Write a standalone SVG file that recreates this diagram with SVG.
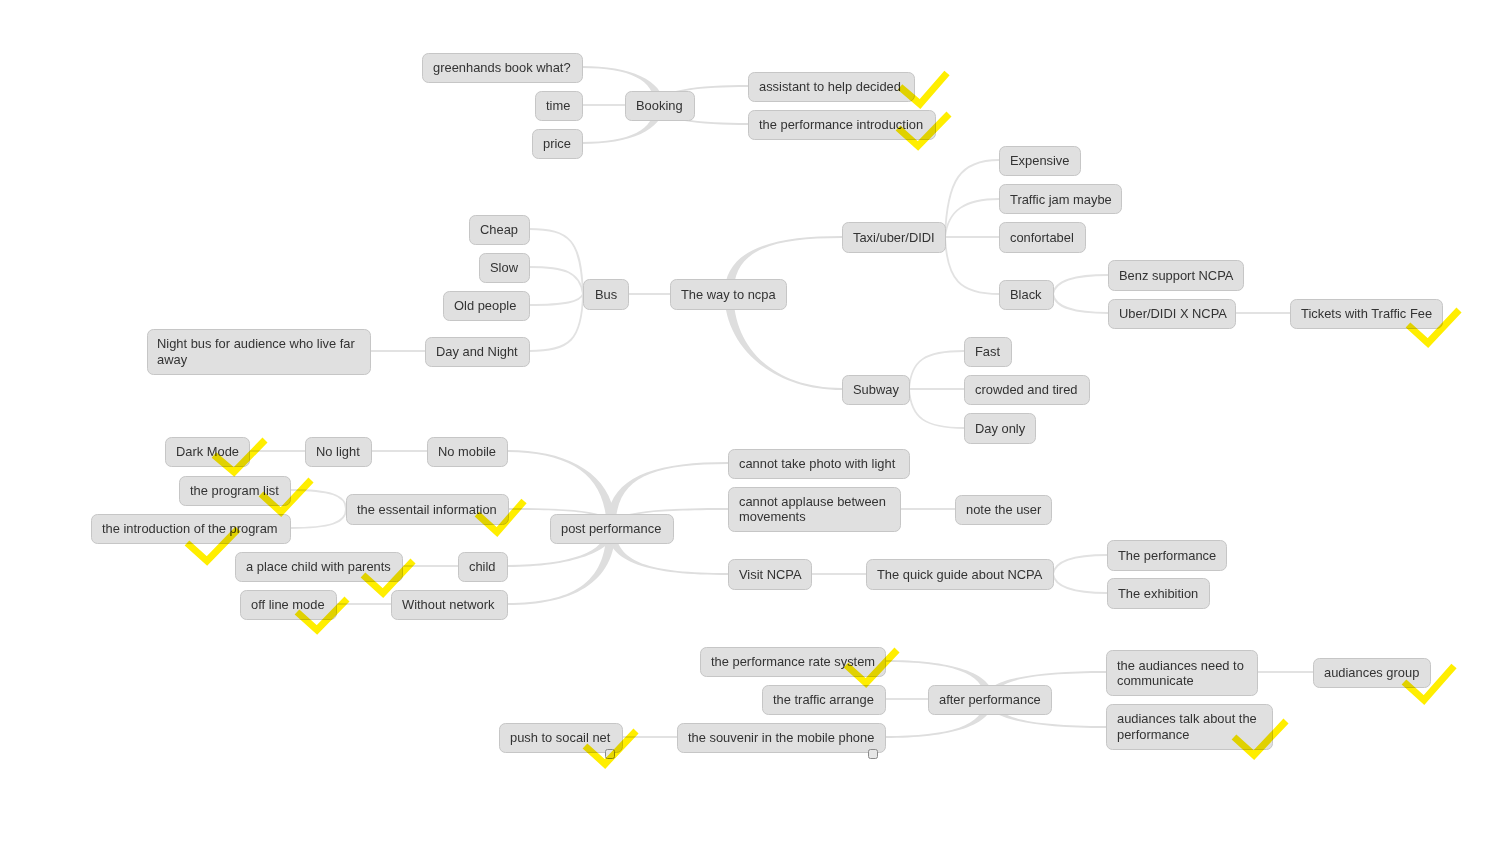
<svg xmlns="http://www.w3.org/2000/svg" width="1500" height="844" viewBox="0 0 1500 844">
<style>
.n rect.b{fill:#e0e0e0;stroke:#c6c6c6;stroke-width:1}
.n text{font-family:"Liberation Sans",Arial,sans-serif;font-size:12.9px;fill:#333}
.c path.l{fill:none;stroke:#e2e2e2;stroke-width:1.8}
.c path.t{fill:#dedede;stroke:none}
.chk{fill:none;stroke:#ffee00;stroke-width:7;mix-blend-mode:multiply}
.sq{fill:#e6e6e6;stroke:#8a8a8a;stroke-width:1}
</style>
<rect width="1500" height="844" fill="#ffffff"/>
<g id="connectors" class="c">
<path class="t" d="M 654.5 105 C 654.5 80 630 68 582 68 L 582 66 C 630 66 663.5 80 663.5 105 Z"/>
<path class="t" d="M 654.5 105 C 654.5 130 630 142 582 142 L 582 144 C 630 144 663.5 130 663.5 105 Z"/>
<path class="t" d="M 654.5 105 C 654.5 90 700 85 748 85 L 748 87 C 700 87 663.5 90 663.5 105 Z"/>
<path class="t" d="M 654.5 105 C 654.5 120 700 125 748 125 L 748 123 C 700 123 663.5 120 663.5 105 Z"/>
<path class="l" d="M 582 105 L 625 105"/>
<path class="t" d="M 724.5 294 C 724.5 250 770 236 842 236 L 842 238 C 770 238 733.5 250 733.5 294 Z"/>
<path class="t" d="M 724.5 294 C 724.5 345 770 390 842 390 L 842 388 C 770 388 733.5 345 733.5 294 Z"/>
<path class="l" d="M 628 294 L 670 294"/>
<path class="l" d="M 583 294 C 581 240 570 229 529 229"/>
<path class="l" d="M 583 294 C 580 272 565 267 529 267"/>
<path class="l" d="M 583 294 C 580 302 565 305 529 305"/>
<path class="l" d="M 583 294 C 582 340 570 351 529 351"/>
<path class="l" d="M 425 351 L 370 351"/>
<path class="l" d="M 945 237 C 947 180 960 160 999 160"/>
<path class="l" d="M 945 237 C 948 210 965 199 999 199"/>
<path class="l" d="M 945 237 L 999 237"/>
<path class="l" d="M 945 237 C 947 280 960 294 999 294"/>
<path class="l" d="M 1053 294 C 1055 280 1075 275 1108 275"/>
<path class="l" d="M 1053 294 C 1055 308 1075 313 1108 313"/>
<path class="l" d="M 1235 313 L 1290 313"/>
<path class="l" d="M 909 389 C 911 360 925 351 964 351"/>
<path class="l" d="M 909 389 L 964 389"/>
<path class="l" d="M 909 389 C 911 418 925 428 964 428"/>
<path class="t" d="M 606.5 528 C 606.5 475 570 452 507 452 L 507 450 C 570 450 615.5 475 615.5 528 Z"/>
<path class="t" d="M 606.5 528 C 606.5 512 580 510 508 510 L 508 508 C 580 508 615.5 512 615.5 528 Z"/>
<path class="t" d="M 606.5 528 C 606.5 552 570 565 507 565 L 507 567 C 570 567 615.5 552 615.5 528 Z"/>
<path class="t" d="M 606.5 528 C 606.5 585 570 603 507 603 L 507 605 C 570 605 615.5 585 615.5 528 Z"/>
<path class="t" d="M 606.5 528 C 606.5 478 650 462 728 462 L 728 464 C 650 464 615.5 478 615.5 528 Z"/>
<path class="t" d="M 606.5 528 C 606.5 513 650 508 728 508 L 728 510 C 650 510 615.5 513 615.5 528 Z"/>
<path class="t" d="M 606.5 528 C 606.5 563 650 575 728 575 L 728 573 C 650 573 615.5 563 615.5 528 Z"/>
<path class="l" d="M 427 451 L 371 451"/>
<path class="l" d="M 305 451 L 249 451"/>
<path class="l" d="M 346 509 C 346 495 330 490 290 490"/>
<path class="l" d="M 346 509 C 346 523 330 528 290 528"/>
<path class="l" d="M 458 566 L 402 566"/>
<path class="l" d="M 391 604 L 336 604"/>
<path class="l" d="M 900 509 L 955 509"/>
<path class="l" d="M 811 574 L 866 574"/>
<path class="l" d="M 1053 574 C 1055 560 1075 555 1107 555"/>
<path class="l" d="M 1053 574 C 1055 588 1075 593 1107 593"/>
<path class="t" d="M 984.5 699 C 984.5 672 950 662 885 662 L 885 660 C 950 660 993.5 672 993.5 699 Z"/>
<path class="t" d="M 984.5 699 C 984.5 726 950 736 885 736 L 885 738 C 950 738 993.5 726 993.5 699 Z"/>
<path class="t" d="M 984.5 699 C 984.5 680 1030 671 1106 671 L 1106 673 C 1030 673 993.5 680 993.5 699 Z"/>
<path class="t" d="M 984.5 699 C 984.5 718 1030 728 1106 728 L 1106 726 C 1030 726 993.5 718 993.5 699 Z"/>
<path class="l" d="M 885 699 L 928 699"/>
<path class="l" d="M 677 737 L 622 737"/>
<path class="l" d="M 1257 672 L 1313 672"/>
</g>

<g id="n-greenhands" class="n"><rect class="b" x="422.5" y="53.5" width="160" height="29" rx="6"/><text x="433" y="72">greenhands book what?</text></g>
<g id="n-time" class="n"><rect class="b" x="535.5" y="91.5" width="47" height="29" rx="6"/><text x="546" y="110">time</text></g>
<g id="n-price" class="n"><rect class="b" x="532.5" y="129.5" width="50" height="29" rx="6"/><text x="543" y="148">price</text></g>
<g id="n-booking" class="n"><rect class="b" x="625.5" y="91.5" width="69" height="29" rx="6"/><text x="636" y="110">Booking</text></g>
<g id="n-assistant" class="n"><rect class="b" x="748.5" y="72.5" width="166" height="29" rx="6"/><text x="759" y="91">assistant to help decided</text></g>
<g id="n-perfintro" class="n"><rect class="b" x="748.5" y="110.5" width="187" height="29" rx="6"/><text x="759" y="129">the performance introduction</text></g>

<g id="n-cheap" class="n"><rect class="b" x="469.5" y="215.5" width="60" height="29" rx="6"/><text x="480" y="234">Cheap</text></g>
<g id="n-slow" class="n"><rect class="b" x="479.5" y="253.5" width="50" height="29" rx="6"/><text x="490" y="272">Slow</text></g>
<g id="n-old" class="n"><rect class="b" x="443.5" y="291.5" width="86" height="29" rx="6"/><text x="454" y="310">Old people</text></g>
<g id="n-daynight" class="n"><rect class="b" x="425.5" y="337.5" width="104" height="29" rx="6"/><text x="436" y="356">Day and Night</text></g>
<g id="n-nightbus" class="n"><rect class="b" x="147.5" y="329.5" width="223" height="45" rx="6"/><text x="157" y="348">Night bus for audience who live far</text><text x="157" y="364">away</text></g>
<g id="n-bus" class="n"><rect class="b" x="583.5" y="279.5" width="45" height="30" rx="6"/><text x="595" y="299">Bus</text></g>
<g id="n-way" class="n"><rect class="b" x="670.5" y="279.5" width="116" height="30" rx="6"/><text x="681" y="299">The way to ncpa</text></g>
<g id="n-taxi" class="n"><rect class="b" x="842.5" y="222.5" width="103" height="30" rx="6"/><text x="853" y="242">Taxi/uber/DIDI</text></g>
<g id="n-subway" class="n"><rect class="b" x="842.5" y="375.5" width="67" height="29" rx="6"/><text x="853" y="394">Subway</text></g>
<g id="n-expensive" class="n"><rect class="b" x="999.5" y="146.5" width="81" height="29" rx="6"/><text x="1010" y="165">Expensive</text></g>
<g id="n-trafficjam" class="n"><rect class="b" x="999.5" y="184.5" width="122" height="29" rx="6"/><text x="1010" y="204">Traffic jam maybe</text></g>
<g id="n-confortabel" class="n"><rect class="b" x="999.5" y="222.5" width="86" height="30" rx="6"/><text x="1010" y="242">confortabel</text></g>
<g id="n-black" class="n"><rect class="b" x="999.5" y="280.5" width="54" height="29" rx="6"/><text x="1010" y="299">Black</text></g>
<g id="n-benz" class="n"><rect class="b" x="1108.5" y="260.5" width="135" height="30" rx="6"/><text x="1119" y="280">Benz support NCPA</text></g>
<g id="n-uber" class="n"><rect class="b" x="1108.5" y="299.5" width="127" height="29" rx="6"/><text x="1119" y="318">Uber/DIDI X NCPA</text></g>
<g id="n-tickets" class="n"><rect class="b" x="1290.5" y="299.5" width="152" height="29" rx="6"/><text x="1301" y="318">Tickets with Traffic Fee</text></g>
<g id="n-fast" class="n"><rect class="b" x="964.5" y="337.5" width="47" height="29" rx="6"/><text x="975" y="356">Fast</text></g>
<g id="n-crowded" class="n"><rect class="b" x="964.5" y="375.5" width="125" height="29" rx="6"/><text x="975" y="394">crowded and tired</text></g>
<g id="n-dayonly" class="n"><rect class="b" x="964.5" y="413.5" width="71" height="30" rx="6"/><text x="975" y="433">Day only</text></g>

<g id="n-dark" class="n"><rect class="b" x="165.5" y="437.5" width="84" height="29" rx="6"/><text x="176" y="456">Dark Mode</text></g>
<g id="n-nolight" class="n"><rect class="b" x="305.5" y="437.5" width="66" height="29" rx="6"/><text x="316" y="456">No light</text></g>
<g id="n-nomobile" class="n"><rect class="b" x="427.5" y="437.5" width="80" height="29" rx="6"/><text x="438" y="456">No mobile</text></g>
<g id="n-proglist" class="n"><rect class="b" x="179.5" y="476.5" width="111" height="29" rx="6"/><text x="190" y="495">the program list</text></g>
<g id="n-introprog" class="n"><rect class="b" x="91.5" y="514.5" width="199" height="29" rx="6"/><text x="102" y="533">the introduction of the program</text></g>
<g id="n-essential" class="n"><rect class="b" x="346.5" y="494.5" width="162" height="30" rx="6"/><text x="357" y="514">the essentail information</text></g>
<g id="n-post" class="n"><rect class="b" x="550.5" y="514.5" width="123" height="29" rx="6"/><text x="561" y="533">post performance</text></g>
<g id="n-placechild" class="n"><rect class="b" x="235.5" y="552.5" width="167" height="29" rx="6"/><text x="246" y="571">a place child with parents</text></g>
<g id="n-child" class="n"><rect class="b" x="458.5" y="552.5" width="49" height="29" rx="6"/><text x="469" y="571">child</text></g>
<g id="n-offline" class="n"><rect class="b" x="240.5" y="590.5" width="96" height="29" rx="6"/><text x="251" y="609">off line mode</text></g>
<g id="n-without" class="n"><rect class="b" x="391.5" y="590.5" width="116" height="29" rx="6"/><text x="402" y="609">Without network</text></g>
<g id="n-photo" class="n"><rect class="b" x="728.5" y="449.5" width="181" height="29" rx="6"/><text x="739" y="468">cannot take photo with light</text></g>
<g id="n-applause" class="n"><rect class="b" x="728.5" y="487.5" width="172" height="44" rx="6"/><text x="739" y="506">cannot applause between</text><text x="739" y="521">movements</text></g>
<g id="n-note" class="n"><rect class="b" x="955.5" y="495.5" width="96" height="29" rx="6"/><text x="966" y="514">note the user</text></g>
<g id="n-visit" class="n"><rect class="b" x="728.5" y="559.5" width="83" height="30" rx="6"/><text x="739" y="579">Visit NCPA</text></g>
<g id="n-quick" class="n"><rect class="b" x="866.5" y="559.5" width="187" height="30" rx="6"/><text x="877" y="579">The quick guide about NCPA</text></g>
<g id="n-theperf" class="n"><rect class="b" x="1107.5" y="540.5" width="119" height="30" rx="6"/><text x="1118" y="560">The performance</text></g>
<g id="n-exhib" class="n"><rect class="b" x="1107.5" y="578.5" width="102" height="30" rx="6"/><text x="1118" y="598">The exhibition</text></g>

<g id="n-rate" class="n"><rect class="b" x="700.5" y="647.5" width="185" height="29" rx="6"/><text x="711" y="666">the performance rate system</text></g>
<g id="n-traffic" class="n"><rect class="b" x="762.5" y="685.5" width="123" height="29" rx="6"/><text x="773" y="704">the traffic arrange</text></g>
<g id="n-souvenir" class="n"><rect class="b" x="677.5" y="723.5" width="208" height="29" rx="6"/><text x="688" y="742">the souvenir in the mobile phone</text><rect class="sq" x="868.5" y="749.5" width="9" height="9" rx="2"/></g>
<g id="n-push" class="n"><rect class="b" x="499.5" y="723.5" width="123" height="29" rx="6"/><text x="510" y="742">push to socail net</text><rect class="sq" x="605.5" y="749.5" width="9" height="9" rx="2"/></g>
<g id="n-after" class="n"><rect class="b" x="928.5" y="685.5" width="123" height="29" rx="6"/><text x="939" y="704">after performance</text></g>
<g id="n-need" class="n"><rect class="b" x="1106.5" y="650.5" width="151" height="45" rx="6"/><text x="1117" y="670">the audiances need to</text><text x="1117" y="685">communicate</text></g>
<g id="n-talk" class="n"><rect class="b" x="1106.5" y="704.5" width="166" height="45" rx="6"/><text x="1117" y="723">audiances talk about the</text><text x="1117" y="739">performance</text></g>
<g id="n-group" class="n"><rect class="b" x="1313.5" y="658.5" width="117" height="29" rx="6"/><text x="1324" y="677">audiances group</text></g>

<g id="checks">
<path class="chk" d="M 900 87 L 920 104 L 947 73"/>
<path class="chk" d="M 898 128 L 918 146 L 949 114"/>
<path class="chk" d="M 1408 325 L 1428 343 L 1459 310"/>
<path class="chk" d="M 214 455 L 234 472 L 265 440"/>
<path class="chk" d="M 261 494 L 281 512 L 311 480"/>
<path class="chk" d="M 187 543 L 207 561 L 238 529"/>
<path class="chk" d="M 477 514 L 497 532 L 524 501"/>
<path class="chk" d="M 363 575 L 383 593 L 413 561"/>
<path class="chk" d="M 297 612 L 317 630 L 347 599"/>
<path class="chk" d="M 846 665 L 866 683 L 897 650"/>
<path class="chk" d="M 585 746 L 605 764 L 636 731"/>
<path class="chk" d="M 1404 682 L 1424 700 L 1454 666"/>
<path class="chk" d="M 1234 737 L 1254 755 L 1286 721"/>
</g>
</svg>
